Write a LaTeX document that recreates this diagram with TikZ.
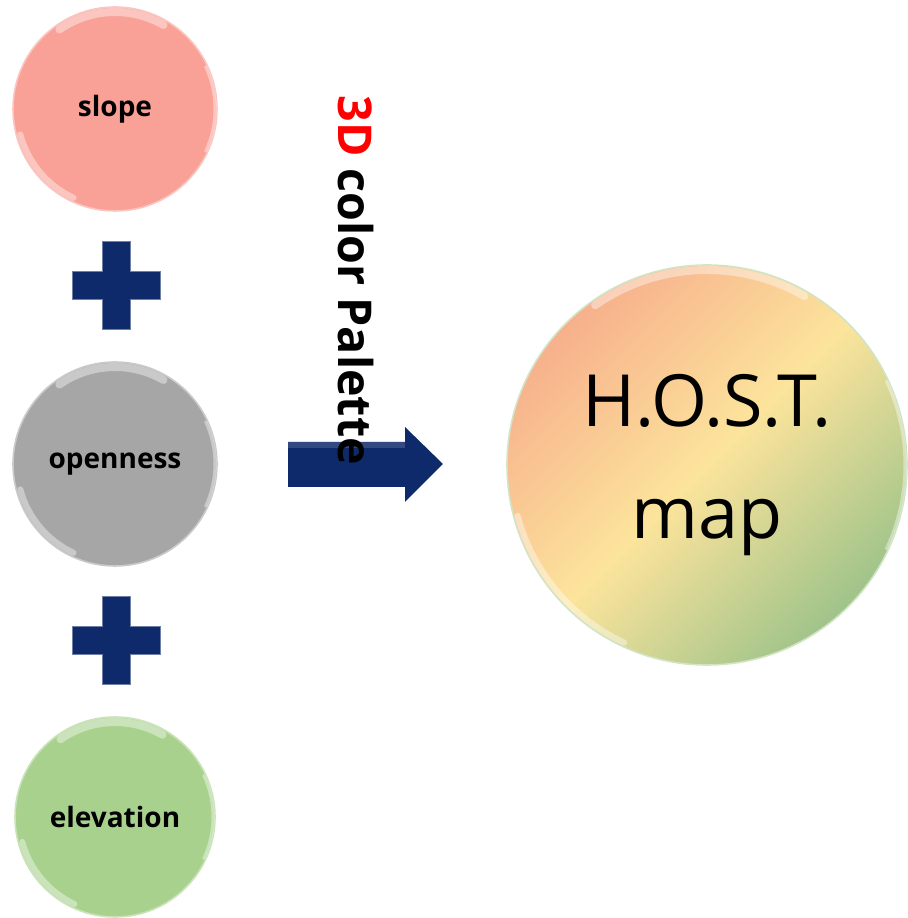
\documentclass[tikz,border=0pt]{standalone}
\usepackage{fontspec}
\setmainfont{Open Sans}
\usetikzlibrary{calc}

\definecolor{slopecol}{HTML}{F9A097}
\definecolor{opencol}{HTML}{A6A6A6}
\definecolor{elevcol}{HTML}{A9D18E}
\definecolor{peach}{HTML}{F7B08C}
\definecolor{sand}{HTML}{FCE49C}
\definecolor{leaf}{HTML}{A3CB8B}
\definecolor{navy}{HTML}{0F2A6B}

\tikzset{
  ball/.style={circle, fill=#1, draw=#1!60!white, line width=0.8pt,
    minimum size=102pt, inner sep=0pt,
    font=\bfseries\fontsize{14}{17}\selectfont},
  gloss/.style={white, line cap=round, opacity=0.4},
  plus/.style={fill=navy, draw=navy!60!white, line width=0.5pt}
}

\begin{document}
\begin{tikzpicture}[x=0.5pt,y=0.5pt]
        \useasboundingbox (0,0) rectangle (908,918);

        % --- INPUT LAYERS (LEFT) ---
        \node[ball=slopecol] (slope) at (115,809) {slope};
        \node[ball=opencol] (openness) at (115,454) {openness};
        \node[ball=elevcol, minimum size=100pt] (elevation) at (115,101) {elevation};

        % --- PLUS SIGNS ---
        \foreach \py in {632,277} {
            \begin{scope}[shift={(116,\py)}]
                \filldraw[plus] (-14,-44) -- (14,-44) -- (14,-14) -- (44,-14) -- (44,14) -- (14,14)
                    -- (14,44) -- (-14,44) -- (-14,14) -- (-44,14) -- (-44,-14) -- (-14,-14) -- cycle;
            \end{scope}
        }

        % --- RESULT ---
        \node[circle, minimum size=200pt, inner sep=0pt, draw=leaf!50!white, line width=0.8pt,
              top color=peach, bottom color=leaf!90!gray, middle color=sand, shading angle=45,
              align=center, font=\fontsize{36}{56}\selectfont] (host) at (707,453) {H.O.S.T.\\map};

        % --- GLOSSY RIMS ---
        \foreach \n/\r in {slope/102, openness/102, elevation/100, host/200} {
            \draw[gloss, line width=4pt] ([shift={(125:\r-5)}]\n.center) arc[start angle=125, end angle=60, radius=\r-5];
            \draw[gloss, line width=3pt] ([shift={(195:\r-4)}]\n.center) arc[start angle=195, end angle=245, radius=\r-4];
            \draw[gloss, line width=1.5pt] ([shift={(-25:\r-2)}]\n.center) arc[start angle=-25, end angle=25, radius=\r-2];
        }

        % --- ARROW ---
        \fill[navy] (288,431) -- (405,431) -- (405,416) -- (443,454) -- (405,491) -- (405,476) -- (288,476) -- cycle;
        \fill[navy!85!white] (288,470) -- (405,470) -- (405,476) -- (288,476) -- cycle;

        \node[rotate=-90, anchor=base west, inner sep=0pt, font=\bfseries\fontsize{23.3}{30}\selectfont]
            (palette) at (338,823) {\textcolor{red}{3D} color Palette};
\end{tikzpicture}
\end{document}
